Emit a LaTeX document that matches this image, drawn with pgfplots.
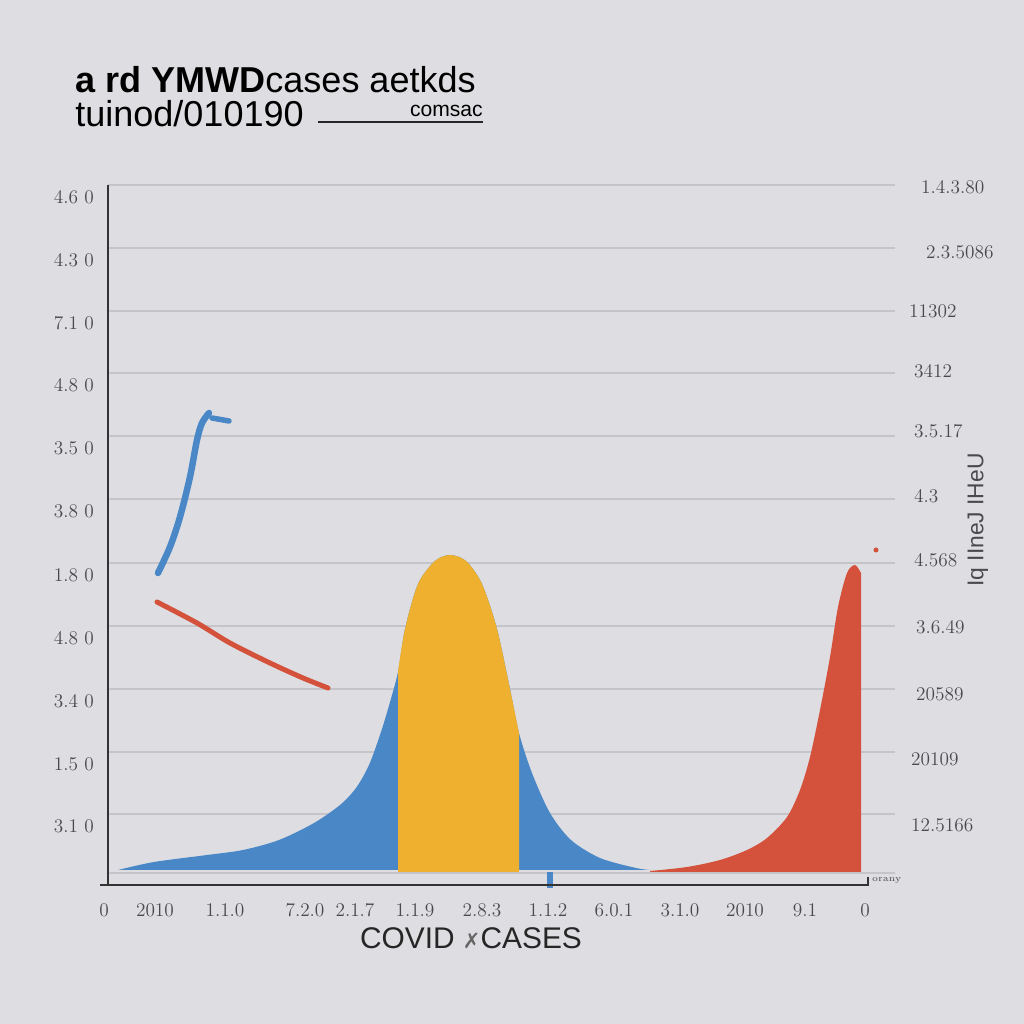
\documentclass[border=0pt]{standalone}
\usepackage{fontspec}
\usepackage{pgfplots}
\pgfplotsset{compat=1.18}
\usetikzlibrary{backgrounds}
\newfontfamily\sans{Liberation Sans}
\newfontfamily\dvsans{DejaVu Sans}
\definecolor{bgc}{HTML}{DEDEE2}
\definecolor{gridc}{HTML}{C4C4C9}
\definecolor{cblue}{HTML}{4A87C6}
\definecolor{cyellow}{HTML}{EFB02F}
\definecolor{cred}{HTML}{D4523B}
\definecolor{lab}{HTML}{4A4A4E}
\tikzset{rlab/.style={anchor=west, text=lab, font=\fontsize{11}{13}\selectfont}}

\begin{document}
\begin{tikzpicture}
\begin{axis}[
  x=0.02cm, y=0.02cm,
  xmin=100, xmax=895, ymin=139, ymax=845,
  axis line style={draw=none},
  major tick length=0pt,
  clip=false,
  xtick={104,155,225,305,355,415,482,548,614,680,745,805,865},
  xticklabels={0,2010,1.1.0,7.2.0,2.1.7,1.1.9,2.8.3,1.1.2,6.0.1,3.1.0,2010,9.1,0},
  ytick={839,776,713,651,588,525,461,398,335,272,210},
  yticklabels={4.6 0,4.3 0,7.1 0,4.8 0,3.5 0,3.8 0,1.8 0,4.8 0,3.4 0,1.5 0,3.1 0},
  tick label style={font=\fontsize{11}{13}\selectfont, text=lab},
  xticklabel style={yshift=-0.24cm},
  yticklabel style={yshift=-0.24cm},
]
\coordinate (bl) at (axis cs:0,0);
\coordinate (tr) at (axis cs:1024,1024);

% horizontal grid
\pgfplotsinvokeforeach{839,776,713,651,588,525,461,398,335,272,210,151}{
  \addplot[gridc, line width=0.3mm, forget plot] coordinates {(108,#1) (895,#1)};
}

% blue bell
\addplot[fill=cblue, draw=none, smooth] coordinates {
  (118,154) (154,162) (207,169) (243,174) (279,184) (314,201) (340,219)
  (356,236) (369,259) (381,292) (390,322) (398,352) (405,395) (418,440)
  (435,463) (450,469) (466,463) (482,440) (497,395) (510,335) (519,291)
  (532,251) (550,211) (571,184) (600,166) (636,156) (650,154)
} -- cycle;

% yellow band
\addplot[fill=cyellow, draw=none, smooth] coordinates {
  (398,352) (405,395) (418,440) (435,463) (450,469) (466,463) (482,440)
  (497,395) (510,335) (519,291)
} -- (axis cs:519,152) -- (axis cs:398,152) -- cycle;

% red rise
\addplot[fill=cred, draw=none, smooth, tension=0.5] coordinates {
  (650,153) (687,157) (720,164) (747,174) (767,186) (787,207) (800,234)
  (810,267) (820,314) (830,367) (838,417) (847,451) (855,459) (861,451)
} -- (axis cs:861,152) -- (axis cs:650,152) -- cycle;

% blue stroke
\addplot[cblue, line width=1.3mm, line cap=round, smooth] coordinates {
  (158,451) (170,477) (180,507) (190,547) (197,584) (202,601) (209,611)
};
\addplot[cblue, line width=1.1mm, line cap=round] coordinates {(212,606) (229,603)};

% red stroke
\addplot[cred, line width=1mm, line cap=round, smooth] coordinates {
  (157,422) (197,401) (230,381) (270,361) (303,346) (328,336)
};

% small marks
\addplot[cblue, line width=1.2mm] coordinates {(550,152) (550,136)};
\addplot[cred, only marks, mark=*, mark size=1.2pt] coordinates {(876,474)};

% axes
\addplot[black!80, line width=0.4mm] coordinates {(108,839) (108,139)};
\addplot[black!80, line width=0.4mm] coordinates {(100,139) (868,139) (868,147)};

% right-hand labels
\node[rlab] at (axis cs:915,837) {1.4.3.80};
\node[rlab] at (axis cs:920,772) {2.3.5086};
\node[rlab] at (axis cs:903,713) {11302};
\node[rlab] at (axis cs:908,653) {3412};
\node[rlab] at (axis cs:908,593) {3.5.17};
\node[rlab] at (axis cs:908,528) {4.3};
\node[rlab] at (axis cs:908,464) {4.568};
\node[rlab] at (axis cs:910,397) {3.6.49};
\node[rlab] at (axis cs:910,330) {20589};
\node[rlab] at (axis cs:905,265) {20109};
\node[rlab] at (axis cs:905,199) {12.5166};
\node[anchor=south west, text=lab, font=\fontsize{5}{6}\selectfont, inner sep=1pt]
  at (axis cs:870,139) {orany};
\node[rotate=90, text=lab, font=\sans\fontsize{13}{15}\selectfont]
  at (axis cs:978,504) {Iq IIneJ IHeU};

% title
\node[anchor=base west, font=\sans\fontsize{20.5}{22}\selectfont, inner sep=0pt]
  at (axis cs:75,931) {\textbf{a rd YMWD}cases aetkds};
\node[anchor=base west, font=\sans\fontsize{20.5}{22}\selectfont, inner sep=0pt]
  at (axis cs:75,897) {tuinod/010190};
\addplot[black!85, line width=0.5mm] coordinates {(318,902) (483,902)};
\node[anchor=base east, font=\sans\fontsize{12}{14}\selectfont, inner sep=0pt]
  at (axis cs:483,907) {comsac};

% x label
\node[anchor=base, font=\sans\fontsize{17}{20}\selectfont, text=black!85]
  at (axis cs:471,76) {COVID {\dvsans\color{black!60}\fontsize{12}{14}\selectfont ✗}CASES};
\end{axis}
\begin{scope}[on background layer]
  \fill[bgc] (bl) rectangle (tr);
\end{scope}
\end{tikzpicture}
\end{document}
